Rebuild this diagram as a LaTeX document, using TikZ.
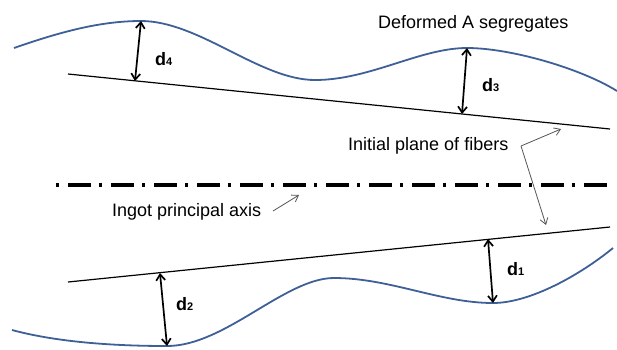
\documentclass[tikz,border=0pt]{standalone}
\usepackage{fontspec}
\setmainfont{Liberation Sans}
\usetikzlibrary{arrows.meta}
\definecolor{waveblue}{RGB}{62,96,150}
\definecolor{pointgray}{RGB}{85,85,85}
\tikzset{
  wave/.style={draw=waveblue, line width=1.8pt},
  plane/.style={draw=black, line width=1.2pt},
  gap/.style={draw=black, line width=1.7pt, {Straight Barb[length=6pt,width=9pt]}-{Straight Barb[length=6pt,width=9pt]}},
  pointer/.style={draw=pointgray, line width=0.8pt, -{Straight Barb[length=6pt,width=8pt]}},
  axisline/.style={draw=black, line width=4pt, dash pattern=on 2.5pt off 9.5pt on 23pt off 8pt},
  caption/.style={anchor=base west, inner sep=0pt, font=\fontsize{18}{20}\selectfont},
  dlabel/.style={anchor=base west, inner sep=0pt, font=\fontsize{18}{20}\selectfont\bfseries}
}
\newcommand{\dsub}[1]{d{\fontsize{11}{12}\selectfont\bfseries #1}}
\begin{document}
\begin{tikzpicture}[x=1pt, y=-1pt]
\useasboundingbox (0,0) rectangle (617,349);

% deformed segregates, upper and lower
\path[wave] (14,48) .. controls (60,32) and (100,21) .. (141,21)
  .. controls (199,21) and (260,80) .. (315,80)
  .. controls (370,80) and (420,48) .. (467,48)
  .. controls (510,48) and (580,68) .. (617,91);
\path[wave] (12,330) .. controls (60,343) and (120,346) .. (167,346)
  .. controls (225,346) and (285,278) .. (334,278)
  .. controls (390,278) and (440,303) .. (493,303)
  .. controls (530,303) and (580,275) .. (613,248);

% initial planes of fibers
\coordinate (upA) at (68,74);
\coordinate (upB) at (610,129);
\coordinate (loA) at (68,282);
\coordinate (loB) at (610,227);
\draw[plane] (upA) -- (upB);
\draw[plane] (loA) -- (loB);

% principal axis
\coordinate (axA) at (56,185);
\coordinate (axB) at (613,185);
\draw[axisline] (axA) -- (axB);

% distances
\coordinate (d4t) at (141,21);  \coordinate (d4b) at (135,81);
\coordinate (d3t) at (467,48);  \coordinate (d3b) at (462,114);
\coordinate (d2t) at (160,273); \coordinate (d2b) at (167,346);
\coordinate (d1t) at (488,239); \coordinate (d1b) at (493,303);
\draw[gap] (d4t) -- (d4b);
\draw[gap] (d3t) -- (d3b);
\draw[gap] (d2t) -- (d2b);
\draw[gap] (d1t) -- (d1b);
\node[dlabel] (l4) at (155,65) {\dsub{4}};
\node[dlabel] (l3) at (482,91) {\dsub{3}};
\node[dlabel] (l2) at (176,310) {\dsub{2}};
\node[dlabel] (l1) at (507,275) {\dsub{1}};

% captions
\node[caption] (seg) at (378,28) {Deformed A segregates};
\node[caption] (fib) at (348,150) {Initial plane of fibers};
\node[caption] (ax) at (112,216) {Ingot principal axis};

% pointers
\coordinate (bend) at (521,146);
\coordinate (fibUp) at (561,129);
\coordinate (fibDown) at (546,225);
\draw[pointer] (bend) -- (fibUp);
\draw[pointer] (bend) -- (fibDown);
\coordinate (axTail) at (273,211);
\coordinate (axTip) at (299,195);
\draw[pointer] (axTail) -- (axTip);
\end{tikzpicture}
\end{document}
